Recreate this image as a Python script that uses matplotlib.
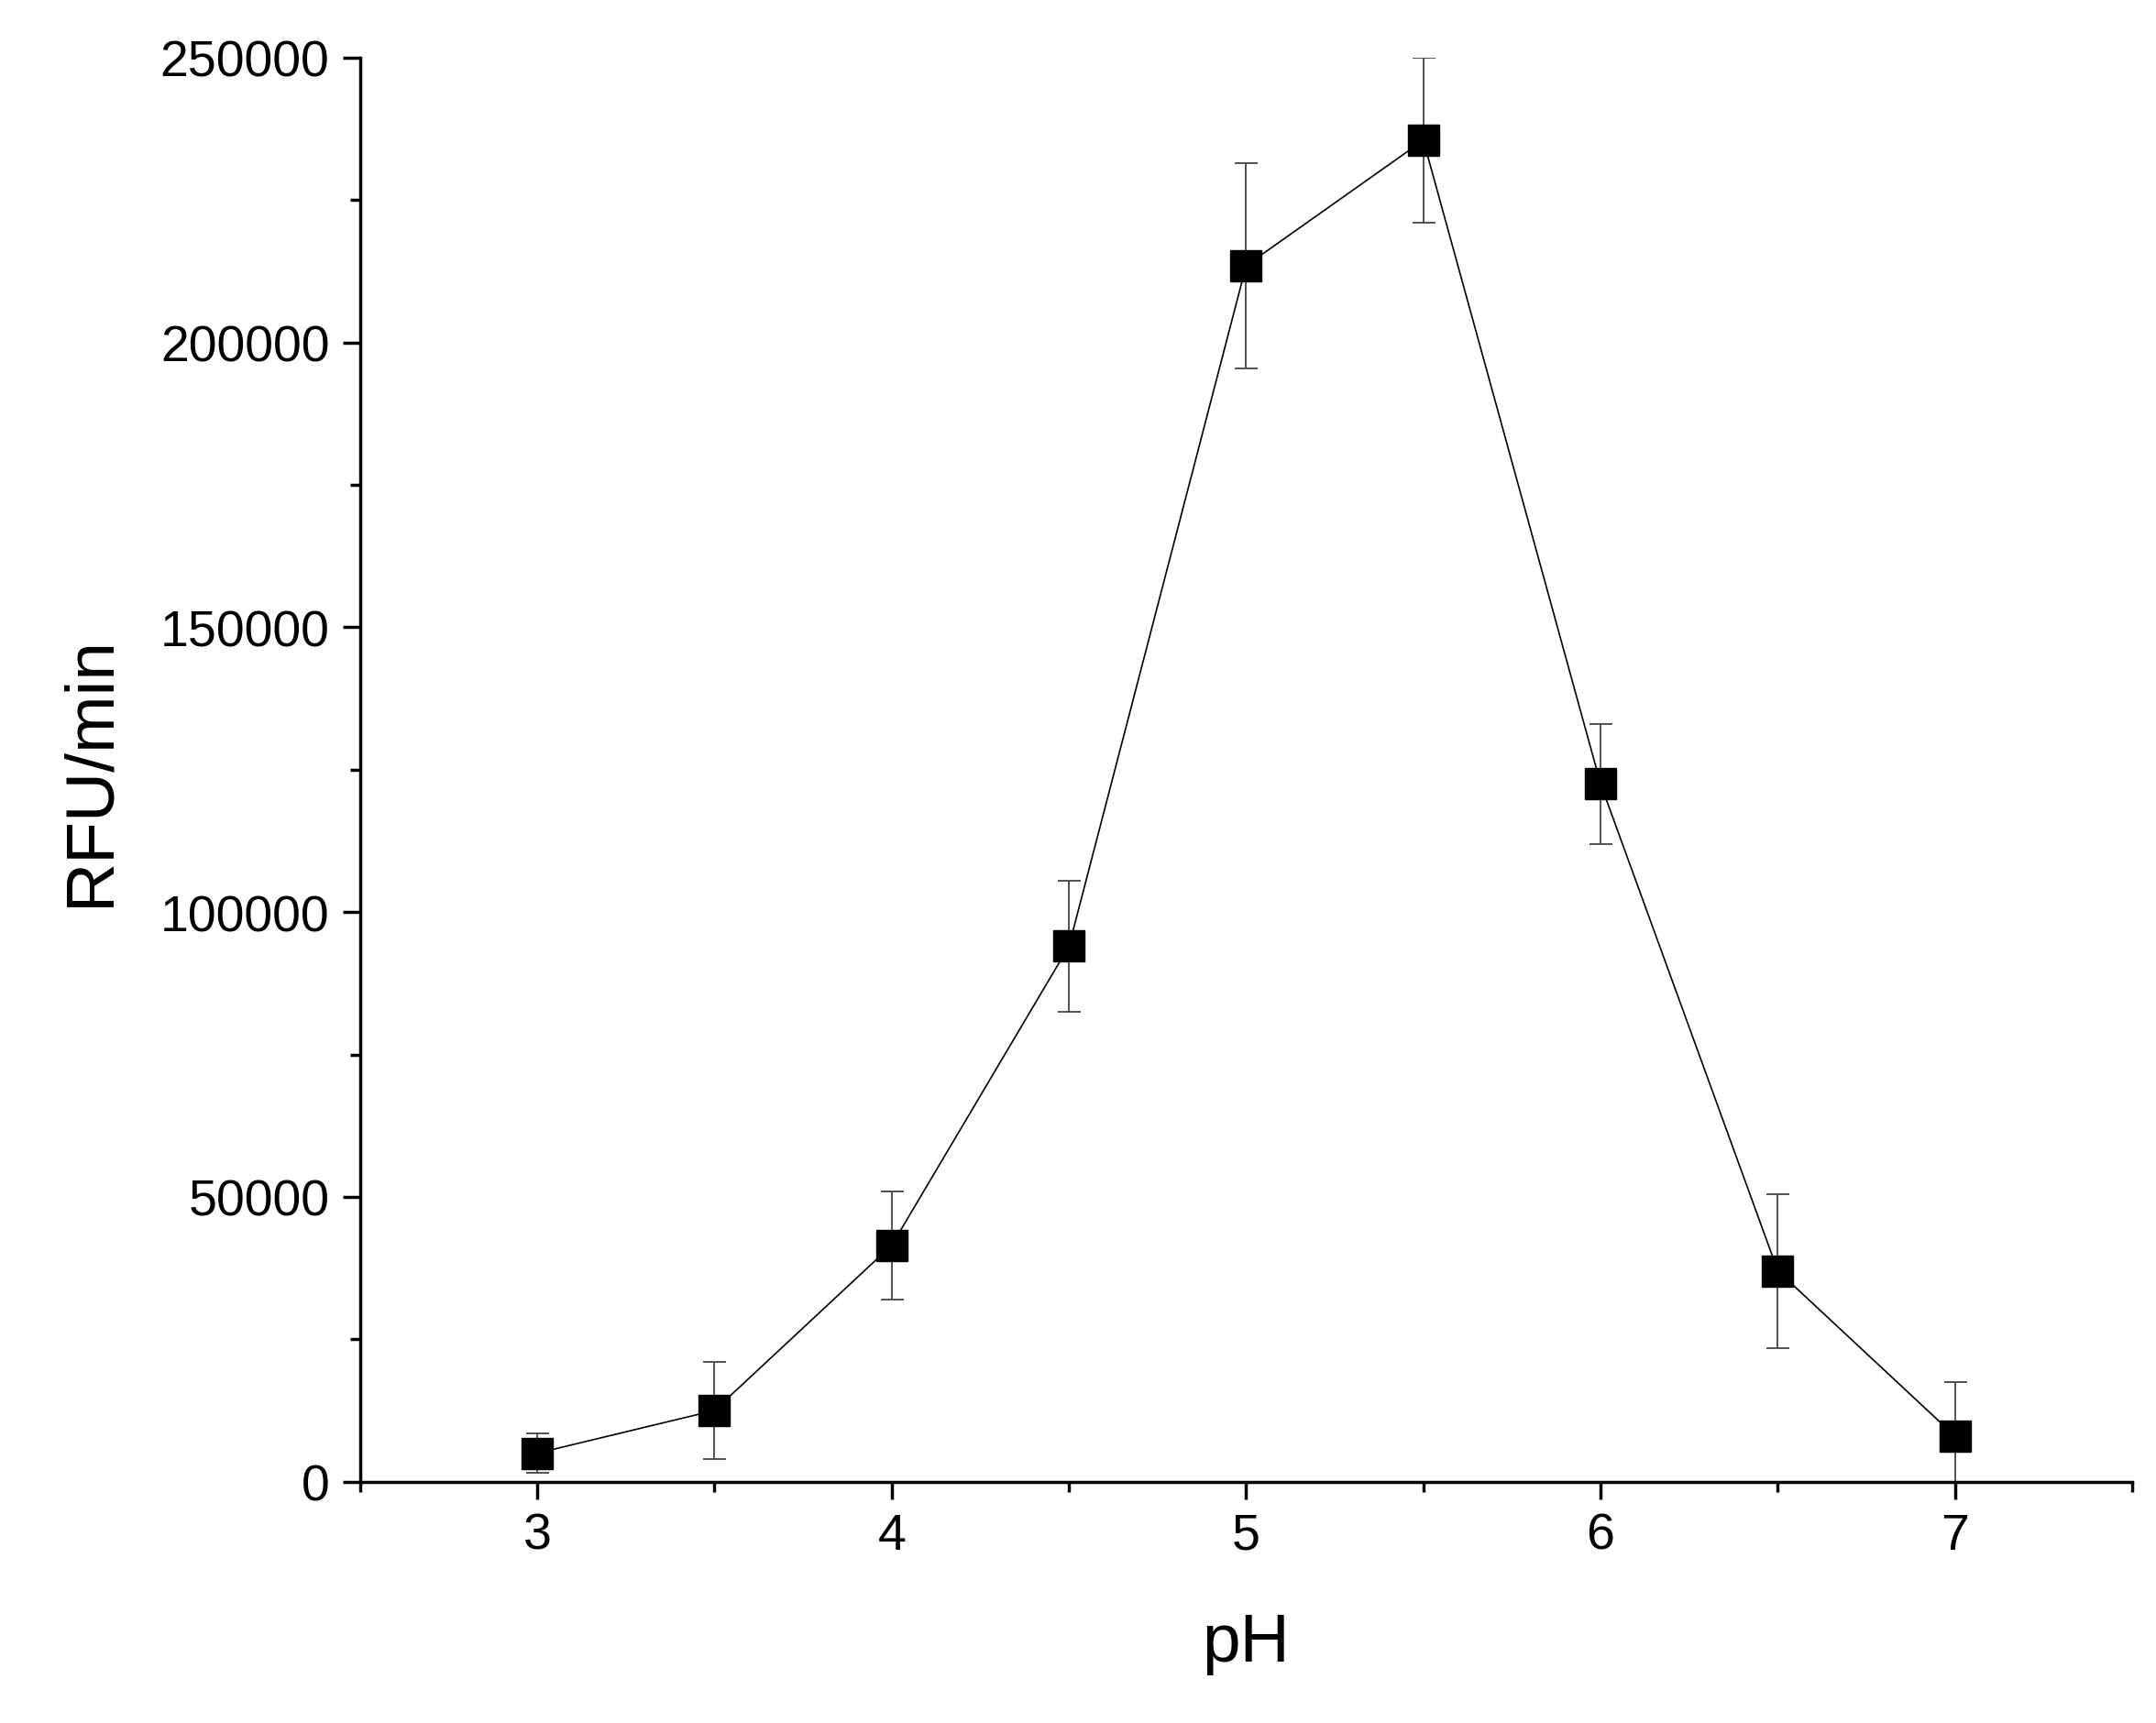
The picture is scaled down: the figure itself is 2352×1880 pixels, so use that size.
import numpy as np
import matplotlib.pyplot as plt
from matplotlib.ticker import MultipleLocator

plt.rcParams['font.family'] = ['Liberation Sans', 'DejaVu Sans']

ph = [3, 3.5, 4, 4.5, 5, 5.5, 6, 6.5, 7]
rfu = [5000, 12500, 41500, 94000, 213500, 235500, 122500, 37000, 8000]
err = [3500, 8500, 9500, 11500, 18000, 14500, 10500, 13500, 9500]

fig = plt.figure(figsize=(23.52, 18.81), dpi=100)
ax = fig.add_axes([0.167, 0.140, 0.822, 0.826])

ax.errorbar(ph, rfu, yerr=err, fmt='s-', color='black', ecolor='#444444',
            elinewidth=1.3, capsize=9, capthick=1.3, lw=1.2, ms=25)

ax.set_xlim(2.5, 7.5)
ax.set_ylim(0, 250000)
ax.xaxis.set_major_locator(MultipleLocator(1))
ax.xaxis.set_minor_locator(MultipleLocator(0.5))
ax.yaxis.set_major_locator(MultipleLocator(50000))
ax.yaxis.set_minor_locator(MultipleLocator(25000))
for s in ['top', 'right']:
    ax.spines[s].set_visible(False)
for s in ['left', 'bottom']:
    ax.spines[s].set_linewidth(2.5)
ax.tick_params(which='major', direction='out', length=14, width=2.5, labelsize=40, pad=10)
ax.tick_params(which='minor', direction='out', length=8, width=2.5)

ax.set_xlabel('pH', fontsize=54, labelpad=40)
ax.set_ylabel('RFU/min', fontsize=54, labelpad=30)

fig.savefig('out.png', dpi=100)
